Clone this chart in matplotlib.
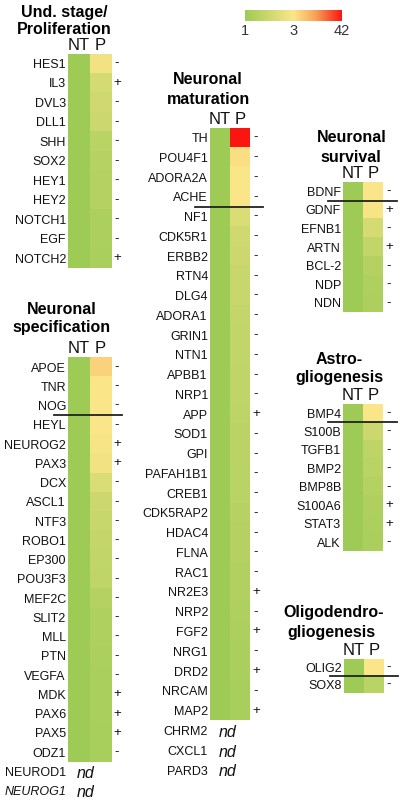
import numpy as np
import matplotlib
matplotlib.use('Agg')
import matplotlib.pyplot as plt
import matplotlib.transforms as mtransforms
from matplotlib.colors import LinearSegmentedColormap, TwoSlopeNorm
from matplotlib.cm import ScalarMappable

plt.rcParams['font.family'] = ['Liberation Sans', 'DejaVu Sans']

# ---------------- data ----------------
und_genes = ['HES1', 'IL3', 'DVL3', 'DLL1', 'SHH', 'SOX2', 'HEY1', 'HEY2', 'NOTCH1', 'EGF', 'NOTCH2']
und_p = [2.8, 2.2, 2.1, 2.0, 1.6, 1.55, 1.5, 1.5, 1.35, 1.35, 1.3]
und_sign = ['-', '+', '-', '-', '-', '-', '-', '-', '-', '-', '+']

spec_genes = ['APOE', 'TNR', 'NOG', 'HEYL', 'NEUROG2', 'PAX3', 'DCX', 'ASCL1', 'NTF3', 'ROBO1',
              'EP300', 'POU3F3', 'MEF2C', 'SLIT2', 'MLL', 'PTN', 'VEGFA', 'MDK', 'PAX6', 'PAX5', 'ODZ1']
spec_p = [8.0, 3.3, 3.1, 3.0, 2.9, 2.8, 2.3, 2.0, 1.9, 1.85,
          1.8, 1.75, 1.5, 1.4, 1.4, 1.35, 1.3, 1.3, 1.3, 1.25, 1.25]
spec_sign = ['-', '-', '-', '-', '+', '+', '-', '-', '-', '-',
             '-', '-', '-', '-', '-', '-', '-', '+', '+', '+', '-']
spec_nd = ['NEUROD1', 'NEUROG1']
spec_nd_italic = [False, True]

mat_genes = ['TH', 'POU4F1', 'ADORA2A', 'ACHE', 'NF1', 'CDK5R1', 'ERBB2', 'RTN4', 'DLG4', 'ADORA1',
             'GRIN1', 'NTN1', 'APBB1', 'NRP1', 'APP', 'SOD1', 'GPI', 'PAFAH1B1', 'CREB1', 'CDK5RAP2',
             'HDAC4', 'FLNA', 'RAC1', 'NR2E3', 'NRP2', 'FGF2', 'NRG1', 'DRD2', 'NRCAM', 'MAP2']
mat_p = [42, 5.0, 3.2, 3.0, 2.3, 2.1, 2.0, 1.9, 1.9, 1.85,
         1.8, 1.8, 1.75, 1.75, 1.7, 1.65, 1.65, 1.6, 1.6, 1.55,
         1.5, 1.5, 1.45, 1.45, 1.4, 1.35, 1.3, 1.3, 1.25, 1.25]
mat_sign = ['-', '-', '-', '-', '-', '-', '-', '-', '-', '-',
            '-', '-', '-', '-', '+', '-', '-', '-', '-', '-',
            '-', '-', '-', '+', '-', '+', '-', '+', '-', '+']
mat_nd = ['CHRM2', 'CXCL1', 'PARD3']

surv_genes = ['BDNF', 'GDNF', 'EFNB1', 'ARTN', 'BCL-2', 'NDP', 'NDN']
surv_p = [3.0, 2.9, 2.2, 1.8, 1.5, 1.4, 1.35]
surv_sign = ['-', '+', '-', '+', '-', '-', '-']

astro_genes = ['BMP4', 'S100B', 'TGFB1', 'BMP2', 'BMP8B', 'S100A6', 'STAT3', 'ALK']
astro_p = [3.0, 2.0, 1.7, 1.6, 1.5, 1.4, 1.35, 1.3]
astro_sign = ['-', '-', '-', '-', '-', '+', '+', '-']

oligo_genes = ['OLIG2', 'SOX8']
oligo_p = [3.0, 1.6]
oligo_sign = ['-', '-']

cbar_ticks = [1, 3, 42]
col_labels = ['NT', 'P']

# ---------------- figure ----------------
W, H = 401, 800
fig = plt.figure(figsize=(W / 100, H / 100), dpi=100)

cmap = LinearSegmentedColormap.from_list(
    'gyr', [(0.0, '#9dcb55'), (0.5, '#fbe689'), (0.72, '#f6a55a'), (1.0, '#fa1510')])
norm = TwoSlopeNorm(vmin=1, vcenter=3, vmax=42)

TXT = '#111111'
LAB_FS = 9.0
TITLE_FS = 11.5
HDR_FS = 12


def px_axes(x0, y0, x1, y1):
    return fig.add_axes([x0 / W, 1 - y1 / H, (x1 - x0) / W, (y1 - y0) / H])


def panel(genes, pvals, signs, x0, x1, top, rowh, titles, sign_x,
          line_after=None, line_x=None, nd=None, nd_italic=None, nd_x=None):
    n = len(genes)
    ax = px_axes(x0, top, x1, top + n * rowh)
    data = np.column_stack([np.ones(n), np.asarray(pvals, dtype=float)])
    ax.imshow(data, cmap=cmap, norm=norm, aspect='auto', interpolation='nearest')
    ax.set_xlim(-0.5, 1.5)
    ax.set_ylim(n - 0.5, -0.5)
    ax.set_xticks([])
    ax.set_yticks(range(n))
    ax.set_yticklabels(genes, fontsize=LAB_FS, color=TXT)
    ax.tick_params(length=0, pad=1.5)
    for s in ax.spines.values():
        s.set_visible(False)
    wpx = x1 - x0
    tr = mtransforms.blended_transform_factory(ax.transAxes, ax.transData)
    for i, s in enumerate(signs):
        ax.text((sign_x - x0) / wpx, i, s, transform=tr, ha='center', va='center',
                fontsize=9.5, color=TXT, clip_on=False)
    # column headers
    for j, lab in enumerate(col_labels):
        ax.text(j, -0.55, lab, ha='center', va='bottom',
                fontsize=HDR_FS, color=TXT, clip_on=False)
    # titles
    for (txt, cx, cy) in titles:
        fig.text(cx / W, 1 - cy / H, txt, ha='center', va='center',
                 fontsize=TITLE_FS, fontweight='bold', color='black')
    if line_after is not None:
        xa = (line_x[0] - x0) / wpx
        xb = (line_x[1] - x0) / wpx
        ax.plot([xa, xb], [line_after + 0.5, line_after + 0.5], transform=tr,
                color='#222222', lw=1.3, clip_on=False)
    if nd:
        for k, g in enumerate(nd):
            it = 'italic' if (nd_italic and nd_italic[k]) else 'normal'
            yy = n + k + 0.1
            ax.text(-2 / wpx, yy, g, transform=tr, ha='right', va='center',
                    fontsize=LAB_FS, color=TXT, style=it, clip_on=False)
            ax.text((nd_x - x0) / wpx, yy, 'nd', transform=tr, ha='center', va='center',
                    fontsize=11.5, style='italic', color=TXT, clip_on=False)
    return ax


# Und. stage / Proliferation
panel(und_genes, und_p, und_sign, 68, 111, 53.5, 19.5,
      [('Und. stage/', 64, 12), ('Proliferation', 64, 30)], 117)

# Neuronal specification
panel(spec_genes, spec_p, spec_sign, 68, 111, 357.4, 19.25,
      [('Neuronal', 62, 310), ('specification', 62, 328)], 117,
      line_after=2, line_x=(54, 122), nd=spec_nd, nd_italic=spec_nd_italic, nd_x=86)

# Neuronal maturation
panel(mat_genes, mat_p, mat_sign, 210, 250, 127.6, 19.76,
      [('Neuronal', 208, 80), ('maturation', 208, 100)], 256,
      line_after=3, line_x=(195, 263), nd=mat_nd, nd_x=228)

# Neuronal survival
panel(surv_genes, surv_p, surv_sign, 343, 383, 182, 18.6,
      [('Neuronal', 352, 137), ('survival', 351, 157)], 389,
      line_after=0, line_x=(328, 397))

# Astro-gliogenesis
panel(astro_genes, astro_p, astro_sign, 343, 383, 403.8, 18.43,
      [('Astro-', 339, 360), ('gliogenesis', 339, 378)], 389,
      line_after=0, line_x=(328, 397))

# Oligodendro-gliogenesis
panel(oligo_genes, oligo_p, oligo_sign, 344, 384, 658.5, 17.2,
      [('Oligodendro-', 334, 612), ('gliogenesis', 331, 632)], 389,
      line_after=0, line_x=(330, 398))

# colour bar
cax = px_axes(245, 10, 342, 21)
cb = fig.colorbar(ScalarMappable(norm=norm, cmap=cmap), cax=cax, orientation='horizontal')
cb.set_ticks(cbar_ticks)
cb.set_ticklabels([str(t) for t in cbar_ticks])
cb.outline.set_visible(False)
cax.tick_params(length=0, pad=2, labelsize=10.5, labelcolor='#333333')

fig.savefig('out.png', dpi=100)
